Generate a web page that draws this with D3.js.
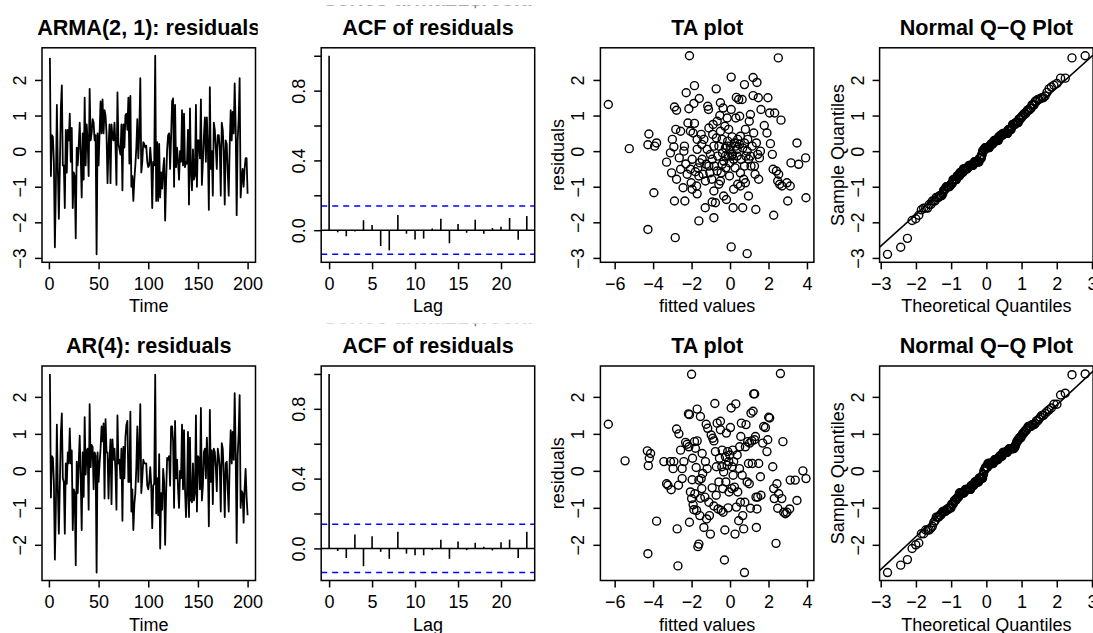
<!DOCTYPE html>
<html>
<head>
<meta charset="utf-8">
<script src="https://cdn.jsdelivr.net/npm/d3@7"></script>
<style>
body { margin: 0; background: #fff; }
svg { display: block; font-family: "Liberation Sans", Arial, Helvetica, sans-serif; }
</style>
</head>
<body>
<svg id="chart" width="1093" height="633"></svg>
<script>
// residuals, t = 1..200
var armaResid = [
  2.62, -0.70, 0.45, 0.40, -0.30, -2.70, -1.00, 1.30, -0.50, -1.90,
  -0.50, 1.20, 1.85, -0.40, -0.40, -1.60, 0.60, -0.60, 0.60, 0.30,
  1.05, -0.30, 0.65, -1.60, -0.60, -0.70, -2.45, 0.10, -0.40, 0.15,
  0.80, -0.10, -1.30, 0.50, -0.80, 1.50, -0.40, 0.75, 0.30, -0.70,
  1.75, 0.30, 0.50, 0.90, 0.80, 0.30, 0.45, -2.90, 0.50, -0.40,
  0.50, 1.40, 0.50, 1.45, 0.50, 1.15, 1.00, 0.50, -0.90, 0.10,
  0.75, -0.90, 0.75, 0.40, 0.30, 0.80, 0.20, -0.95, 1.65, 0.20,
  0.05, -0.10, 0.75, -1.10, 0.75, 0.10, 1.00, 1.05, 0.60, 1.50,
  -0.35, 1.55, -1.00, -0.70, -1.40, -0.80, -0.40, 0.10, 0.90, -0.20,
  0.50, 2.05, -0.60, -0.30, 0.25, 0.20, 0.10, 0.15, -0.30, -0.45,
  -0.40, 0.10, -0.30, -1.60, -0.30, -0.40, 2.68, -1.40, 0.25, -1.40,
  0.20, -1.30, -0.60, -1.05, -0.50, -0.20, -1.95, -0.80, 0.05, 0.45,
  0.50, -0.50, 0.40, 1.40, 1.48, -1.00, 1.30, -0.45, 0.10, -0.30,
  -0.80, 0.00, -0.30, 1.15, -0.40, 1.05, -0.45, -0.30, -0.35, 0.60,
  -1.50, 1.20, -0.60, -1.10, 0.05, -0.80, -0.70, 1.30, -1.00, 0.30,
  0.30, -0.20, 1.45, -0.95, -0.30, 0.40, 0.95, -0.30, 0.95, 0.10,
  -1.65, 1.80, -0.50, 0.00, -1.25, 0.80, 0.60, 0.10, -0.50, 0.45,
  0.45, 0.10, -1.25, 0.80, 0.60, 0.00, -1.50, 0.30, 0.20, -0.60,
  -1.25, 0.15, 1.15, 0.30, 1.10, 0.50, 1.90, 0.70, -1.80, 0.30,
  0.90, 2.05, -1.30, -0.80, -0.50, -1.00, -0.50, -0.20, -0.20, -1.20
];
var arResid = [
  2.62, -0.72, 0.40, 0.35, -0.30, -2.40, -1.00, 1.25, -0.50, -1.70,
  -0.40, 1.00, 1.55, -0.20, -0.30, -1.70, 0.20, -0.35, 0.50, 0.20,
  1.15, 0.20, 0.55, -1.60, -0.50, -0.60, -2.55, 0.25, -0.60, 0.20,
  0.95, -0.20, -1.60, 0.50, -0.70, 1.45, -0.10, 0.55, 0.60, -1.05,
  1.80, 0.10, 0.70, 0.65, -0.50, 0.50, 0.40, -2.75, 0.50, -0.30,
  0.20, 0.60, 1.20, 0.80, 1.28, -0.75, 1.40, 0.50, 0.50, -0.75,
  0.30, 0.85, -0.90, 0.85, 0.30, 0.60, 0.00, -1.05, 1.50, 0.20,
  0.30, -0.20, 0.60, -1.35, 0.65, -0.20, 0.90, 1.25, 1.35, -0.30,
  -0.30, 1.60, -1.10, -0.50, -1.60, -0.90, -0.60, 0.10, 1.20, -0.30,
  0.60, 1.80, -0.60, -0.20, 0.30, 0.20, 0.20, 0.20, -0.40, -0.50,
  -0.30, 0.10, -0.40, -1.55, -0.40, -0.35, 2.60, -1.15, -0.20, -1.20,
  0.45, -2.10, -0.60, -1.05, 0.05, -0.30, -2.00, -0.60, 0.35, 0.30,
  0.40, -0.40, 1.20, 1.20, 0.80, -1.00, 1.35, -0.20, 0.30, -0.50,
  -1.00, 0.00, -0.20, 1.25, -0.50, 1.10, -0.50, -1.25, -0.60, 1.05,
  -1.25, 0.90, -0.80, -0.85, 0.20, -0.80, -0.60, 1.50, -1.10, 0.40,
  0.35, -0.50, 1.70, -0.80, -0.40, 0.50, 0.60, -0.20, 0.90, 0.20,
  -1.50, 1.65, -0.30, 0.55, -0.90, 0.60, 0.50, 0.10, -0.55, 0.60,
  0.40, 0.10, -1.10, 0.75, 0.60, -0.10, -1.25, 0.20, 0.25, -0.50,
  -1.10, 0.30, 1.10, 0.20, 1.05, 0.30, 2.10, 0.50, -1.95, 0.40,
  1.00, 2.05, -1.00, -0.55, -0.60, -1.40, -0.50, 0.05, -0.70, -1.20
];

// sample ACF of the residuals, lags 0..23
var lags = d3.range(0, 24);
var armaAcf = [1, -0.012, -0.035, -0.008, 0.057, 0.029, -0.091, -0.116, 0.087, -0.02, -0.054, -0.048,
               0.01, 0.066, -0.075, 0.035, -0.015, 0.06, -0.02, 0.012, 0.02, 0.07, -0.055, 0.081];
var arAcf = [1, -0.015, -0.055, 0.08, -0.102, 0.07, -0.02, -0.06, 0.096, -0.03, -0.04, -0.04,
             -0.01, 0.05, -0.06, 0.04, -0.01, 0.032, 0.01, -0.012, 0.035, 0.05, -0.055, 0.095];

// TA plot points: [fitted value, residual]
var armaTA = [
  [-6.33,1.31],[-5.24,0.07],[-4.27,-2.2],[-4.22,0.48],[-4.27,0.18],[-3.96,-1.17],[-3.92,0.14],[-3.82,0.23],[-3.3,-0.31],[-3.1,-0.05],
  [-3.04,-0.61],[-3.0,0.33],[-2.92,0.12],[-2.89,1.24],[-2.78,1.15],[-2.89,-1.4],[-2.85,-2.43],[-2.82,0.61],[-2.78,-0.79],[-2.64,-0.19],
  [-2.57,-0.51],[-2.57,0.56],[-2.44,-1.03],[-2.4,0.0],[-2.37,0.14],[-2.35,-1.4],[-2.3,-0.36],[-2.28,1.64],[-2.23,-0.65],[-2.19,0.79],
  [-2.14,1.19],[-2.11,2.68],[-2.06,0.56],[-2.06,-0.51],[-2.02,-0.89],[-1.97,-0.23],[-1.97,-1.07],[-1.92,0.51],[-1.88,1.34],[-1.85,1.84],
  [-1.85,0.78],[-1.8,-0.58],[-1.74,-0.98],[-1.71,-1.2],[-1.71,0.05],[-1.67,-0.47],[-1.62,-1.96],[-1.6,1.48],[-1.57,-0.33],[-1.5,0.47],
  [-1.47,0.19],[-1.4,-0.65],[-1.36,0.33],[-1.29,-1.59],[-1.24,-0.37],[-1.19,0.05],[-1.16,1.26],[-1.12,1.17],[-1.1,0.65],[-1.05,-0.61],
  [-1.02,-0.09],[-0.95,-0.79],[-0.93,-1.43],[-0.9,0.47],[-0.88,0.75],[-0.84,-1.12],[-0.84,-1.87],[-0.81,-0.42],[-0.76,-1.45],[-0.72,1.75],
  [-0.71,0.37],[-0.67,0.84],[-0.64,-0.14],[-0.58,-0.93],[-0.58,0.14],[-0.53,1.0],[-0.5,1.36],[-0.5,0.56],[-0.46,-0.61],[-0.41,0.33],
  [-0.39,-0.05],[-0.36,1.21],[-0.33,-1.26],[-0.33,-0.28],[-0.27,0.7],[-0.24,0.09],[-0.22,-0.47],[-0.19,-1.36],[-0.15,0.93],[-0.12,0.28],
  [-0.1,-0.14],[-0.07,0.61],[-0.03,-0.7],[-0.01,-0.33],[0.02,0.14],[0.06,2.08],[0.06,1.17],[0.06,-2.69],[0.11,0.4],[0.12,-0.09],
  [0.16,-1.59],[0.19,-1.07],[0.23,0.23],[0.26,-0.47],[0.3,0.93],[0.33,1.51],[0.37,0.05],[0.4,-0.93],[0.45,1.45],[0.49,0.19],
  [0.5,0.98],[0.54,-0.98],[0.57,-0.23],[0.63,1.45],[0.66,-1.59],[0.71,-0.79],[0.75,1.87],[0.8,0.61],[0.83,-0.14],[0.89,-2.88],
  [0.89,0.0],[0.92,0.33],[0.96,-1.26],[1.0,0.84],[1.06,1.03],[1.09,-0.42],[1.15,0.14],[1.2,2.07],[1.2,1.56],[1.23,0.51],
  [1.27,-0.42],[1.3,-0.65],[1.34,-1.64],[1.37,0.23],[1.4,1.93],[1.44,-0.09],[1.47,1.5],[1.49,-0.79],[1.53,-0.19],[1.58,0.0],
  [1.61,1.17],[1.78,0.72],[1.92,0.51],[1.97,1.5],[2.06,1.07],[2.1,0.21],[2.2,-0.09],[2.24,-0.51],[2.27,-1.8],[2.32,1.07],
  [2.41,-0.56],[2.48,-0.84],[2.51,2.62],[2.53,-0.65],[2.58,-0.93],[2.65,0.87],[2.7,-0.98],[2.96,-0.89],[3.0,-1.4],[3.13,-0.98],
  [3.17,-0.33],[3.48,0.23],[3.57,-0.37],[3.93,-0.19],[3.95,-1.31],
  [-0.15,0.14],[-0.01,0.03],[0.09,-0.14],[0.19,-0.23],[0.3,0.14],[0.4,0.33],[0.54,0.42],[0.66,0.09],[0.75,0.23],[-0.24,-0.14],
  [-0.41,-0.37],[-0.5,-0.84],[-0.67,-0.56],[-0.84,0.14],[-0.93,-0.23],[-1.1,-0.42],[-1.28,-0.84],[-1.45,-0.23],[-1.62,-0.7],[-1.71,0.33],
  [0.54,-0.61],[0.75,-0.42],[0.97,-0.23],[1.06,-0.14],[0.8,-0.89],[0.37,-0.14]
];
var arTA = [
  [-6.33,1.26],[-5.46,0.27],[-4.3,0.54],[-4.25,0.14],[-4.13,0.47],[-4.27,-2.24],[-4.2,0.34],[-3.82,-1.36],[-3.44,0.25],[-3.3,-0.35],
  [-3.23,-0.39],[-3.1,0.25],[-3.06,-0.51],[-2.96,0.06],[-2.92,0.25],[-2.78,1.13],[-2.75,-1.57],[-2.71,-2.57],[-2.68,-0.39],[-2.66,1.0],
  [-2.57,0.56],[-2.49,0.06],[-2.49,-0.21],[-2.4,0.25],[-2.31,0.77],[-2.23,0.72],[-2.16,1.54],[-2.14,0.65],[-2.11,1.52],[-2.11,-1.39],
  [-2.06,-0.57],[-2.0,-0.75],[-2.0,2.61],[-1.97,-0.24],[-1.95,0.34],[-1.92,-0.92],[-1.88,-1.05],[-1.85,0.79],[-1.83,-0.62],[-1.8,0.61],
  [-1.76,0.09],[-1.74,-1.07],[-1.71,0.81],[-1.71,1.67],[-1.67,-2.05],[-1.62,-1.98],[-1.62,-0.25],[-1.57,-1.21],[-1.54,1.47],[-1.54,-0.74],
  [-1.5,-0.21],[-1.47,-0.48],[-1.45,0.47],[-1.42,-0.07],[-1.36,-1.53],[-1.31,-0.71],[-1.28,0.25],[-1.24,1.26],[-1.22,-1.3],[-1.19,0.06],
  [-1.16,1.15],[-1.1,-0.85],[-1.07,-1.21],[-1.02,-1.71],[-0.98,0.97],[-0.93,-0.46],[-0.9,0.88],[-0.84,0.81],[-0.84,-0.95],[-0.79,1.82],
  [-0.76,0.52],[-0.72,-0.66],[-0.71,0.11],[-0.67,1.29],[-0.62,-1.03],[-0.58,-0.3],[-0.55,0.34],[-0.5,1.11],[-0.5,1.34],[-0.46,-1.07],
  [-0.43,0.11],[-0.41,0.56],[-0.38,-0.48],[-0.36,-1.12],[-0.33,-0.03],[-0.29,-2.41],[-0.27,-1.6],[-0.24,0.38],[-0.22,-0.3],[-0.19,1.02],
  [-0.15,0.15],[-0.12,0.52],[-0.1,-1.0],[-0.07,0.25],[-0.05,-0.57],[-0.01,0.43],[0.02,1.17],[0.06,1.7],[0.09,-0.48],[0.11,0.11],
  [0.14,0.56],[0.16,-0.12],[0.19,0.25],[0.23,-0.44],[0.26,-1.71],[0.3,1.81],[0.33,-0.98],[0.37,0.43],[0.4,-0.57],[0.45,-1.35],
  [0.49,0.06],[0.5,0.65],[0.54,-0.85],[0.56,0.93],[0.59,1.29],[0.63,-0.12],[0.66,-1.21],[0.71,-1.57],[0.75,-2.75],[0.77,-0.85],
  [0.8,0.65],[0.83,1.25],[0.89,-0.3],[0.92,0.79],[0.96,0.2],[1.0,-0.35],[1.02,0.75],[1.06,-1.01],[1.09,1.56],[1.13,0.81],
  [1.16,0.2],[1.2,1.61],[1.23,2.08],[1.27,0.84],[1.28,2.08],[1.32,0.93],[1.35,-0.71],[1.37,-1.53],[1.4,-1.03],[1.44,-0.71],
  [1.49,0.2],[1.58,-0.16],[1.61,-0.66],[1.7,0.75],[1.75,1.2],[1.84,1.17],[1.92,0.52],[1.96,0.84],[2.01,1.45],[2.06,1.43],
  [2.22,0.11],[2.27,-0.48],[2.3,-0.75],[2.39,-1.96],[2.44,-0.35],[2.48,-1.01],[2.53,-0.62],[2.62,2.63],[2.69,-0.75],[2.75,0.79],
  [2.79,-1.12],[2.88,-1.16],[2.96,-1.12],[3.1,-1.03],[3.13,-0.25],[3.39,-0.25],[3.48,-0.8],[3.79,0.0],[3.95,-0.21]
];

var rowTitles = ["ARMA(2, 1): residuals", "AR(4): residuals"];
var hiddenTitle = "Series arma21$resid";
var timeTicks = [0, 50, 100, 150, 200];
var lagTicks = [0, 5, 10, 15, 20];
var acfTicks = [0, 0.2, 0.4, 0.6, 0.8, 1.0];
var acfLabelled = [0, 0.4, 0.8];
var taTicks = [-6, -4, -2, 0, 2, 4];
var qqTicks = [-3, -2, -1, 0, 1, 2, 3];

// layout
var FONT = 18, TFONT = 21.6;
var figW = 279.2, figX0 = -19.5, boxOff = 61.5, boxW = 213.5, boxH = 214.5;
var rowTop = [47.8, 366];

var svg = d3.select("#chart");
var fmt = d3.format("");
var fmt1 = d3.format(".1f");
var nClip = 0;

// R style 4% expansion of the data range
function pad(ext) {
  var d = (ext[1] - ext[0]) * 0.04;
  return [ext[0] - d, ext[1] + d];
}

function intTicks(dom) {
  return d3.range(Math.ceil(dom[0]), Math.floor(dom[1]) + 1);
}

// inverse normal cdf (Acklam)
function qnorm(p) {
  var a = [-3.969683028665376e+01, 2.209460984245205e+02, -2.759285104469687e+02, 1.383577518672690e+02, -3.066479806614716e+01, 2.506628277459239e+00];
  var b = [-5.447609879822406e+01, 1.615858368580409e+02, -1.556989798598866e+02, 6.680131188771972e+01, -1.328068155288572e+01];
  var c = [-7.784894002430293e-03, -3.223964580411365e-01, -2.400758277161838e+00, -2.549732539343734e+00, 4.374664141464968e+00, 2.938163982698783e+00];
  var d = [7.784695709041462e-03, 3.224671290700398e-01, 2.445134137142996e+00, 3.754408661907416e+00];
  var pl = 0.02425, q, r;
  if (p < pl || p > 1 - pl) {
    q = Math.sqrt(-2 * Math.log(p < pl ? p : 1 - p));
    var v = (((((c[0]*q+c[1])*q+c[2])*q+c[3])*q+c[4])*q+c[5]) / ((((d[0]*q+d[1])*q+d[2])*q+d[3])*q+1);
    return p < pl ? v : -v;
  }
  q = p - 0.5; r = q * q;
  return (((((a[0]*r+a[1])*r+a[2])*r+a[3])*r+a[4])*r+a[5])*q / (((((b[0]*r+b[1])*r+b[2])*r+b[3])*r+b[4])*r+1);
}

function panel(row, col, title, xlab, ylab) {
  var x0 = figX0 + col * figW + boxOff, y0 = rowTop[row];
  var g = svg.append("g").attr("transform", "translate(" + x0 + "," + y0 + ")");
  var id = "clip" + (nClip++);
  g.append("clipPath").attr("id", id).append("rect").attr("width", boxW).attr("height", boxH);
  // figure region: titles are cut at its edges
  var fid = "fig" + (nClip++);
  g.append("clipPath").attr("id", fid).append("rect")
    .attr("x", -boxOff).attr("y", -42.3).attr("width", figW - 2).attr("height", 400);
  g.append("text").attr("x", boxW / 2).attr("y", -13)
    .attr("clip-path", "url(#" + fid + ")")
    .attr("text-anchor", "middle").attr("font-size", TFONT).attr("font-weight", "bold")
    .text(title);
  if (xlab) {
    g.append("text").attr("x", boxW / 2).attr("y", boxH + 50)
      .attr("text-anchor", "middle").attr("font-size", FONT).text(xlab);
  }
  if (ylab) {
    g.append("text").attr("transform", "translate(-36," + (boxH / 2) + ") rotate(-90)")
      .attr("text-anchor", "middle").attr("font-size", FONT).text(ylab);
  }
  return { g: g, clip: "url(#" + id + ")", fig: "url(#" + fid + ")" };
}

function axes(p, x, y, xt, yt, yLabelled, yFmt) {
  var ax = p.g.append("g").attr("transform", "translate(0," + boxH + ")")
    .call(d3.axisBottom(x).tickValues(xt).tickSize(7).tickPadding(8).tickFormat(fmt));
  var ay = p.g.append("g")
    .call(d3.axisLeft(y).tickValues(yt).tickSize(7).tickFormat(function (d) {
      if (yLabelled && yLabelled.indexOf(d) < 0) return "";
      return (yFmt || fmt)(d);
    }));
  [ax, ay].forEach(function (a) {
    a.attr("font-size", FONT).attr("font-family", null);
    a.select(".domain").remove();
    a.selectAll("line").attr("stroke", "#000").attr("stroke-width", 1.5);
    a.selectAll("text").attr("fill", "#000");
  });
  ay.selectAll("text").attr("transform", "rotate(-90)").attr("x", 0).attr("y", -16)
    .attr("dy", null).attr("text-anchor", "middle");
  p.g.append("rect").attr("width", boxW).attr("height", boxH)
    .attr("fill", "none").attr("stroke", "#000").attr("stroke-width", 1.5);
}

function drawRow(row, resid, acf, ta) {
  var n = resid.length;
  var yDom = pad(d3.extent(resid));
  var yTicks = intTicks(yDom);

  // residual time series
  var p = panel(row, 0, rowTitles[row], "Time", null);
  var x = d3.scaleLinear().domain(pad([1, n])).range([0, boxW]);
  var y = d3.scaleLinear().domain(yDom).range([boxH, 0]);
  p.g.append("path").datum(resid)
    .attr("clip-path", p.clip)
    .attr("fill", "none").attr("stroke", "#000").attr("stroke-width", 1.8).attr("stroke-linejoin", "round")
    .attr("d", d3.line().x(function (d, i) { return x(i + 1); }).y(function (d) { return y(d); }));
  axes(p, x, y, timeTicks, yTicks);

  // ACF; the default "Series ..." title sits above the figure and only its foot shows
  p = panel(row, 1, "ACF of residuals", "Lag", null);
  p.g.append("text").attr("x", boxW / 2).attr("y", -41.6)
    .attr("clip-path", p.fig)
    .attr("text-anchor", "middle").attr("font-size", TFONT).attr("font-weight", "bold")
    .attr("fill", "#666")
    .text(hiddenTitle);
  var clim = 1.96 / Math.sqrt(n);
  x = d3.scaleLinear().domain(pad([0, d3.max(lags)])).range([0, boxW]);
  y = d3.scaleLinear().domain(pad([Math.min(-clim, d3.min(acf)), Math.max(clim, d3.max(acf))])).range([boxH, 0]);
  p.g.selectAll(".bar").data(lags).enter().append("line")
    .attr("x1", function (d) { return x(d); }).attr("x2", function (d) { return x(d); })
    .attr("y1", y(0)).attr("y2", function (d) { return y(acf[d]); })
    .attr("stroke", "#000").attr("stroke-width", 1.6);
  p.g.append("line").attr("x1", 0).attr("x2", boxW).attr("y1", y(0)).attr("y2", y(0))
    .attr("stroke", "#000").attr("stroke-width", 1.5);
  [clim, -clim].forEach(function (v) {
    p.g.append("line").attr("x1", 0).attr("x2", boxW).attr("y1", y(v)).attr("y2", y(v))
      .attr("stroke", "#0000ff").attr("stroke-width", 1.5).attr("stroke-dasharray", "6,5");
  });
  axes(p, x, y, lagTicks, acfTicks, acfLabelled, fmt1);

  // TA plot
  p = panel(row, 2, "TA plot", "fitted values", "residuals");
  x = d3.scaleLinear().domain(pad(d3.extent(ta, function (d) { return d[0]; }))).range([0, boxW]);
  y = d3.scaleLinear().domain(yDom).range([boxH, 0]);
  p.g.selectAll(".pt").data(ta).enter().append("circle")
    .attr("cx", function (d) { return x(d[0]); }).attr("cy", function (d) { return y(d[1]); })
    .attr("r", 4).attr("fill", "none").attr("stroke", "#000").attr("stroke-width", 1.4);
  axes(p, x, y, taTicks, yTicks);

  // normal QQ plot
  p = panel(row, 3, "Normal Q\u2212Q Plot", "Theoretical Quantiles", "Sample Quantiles");
  var sorted = resid.slice().sort(d3.ascending);
  var theo = sorted.map(function (d, i) { return qnorm((i + 0.5) / n); });
  x = d3.scaleLinear().domain(pad(d3.extent(theo))).range([0, boxW]);
  p.g.selectAll(".qq").data(sorted).enter().append("circle")
    .attr("cx", function (d, i) { return x(theo[i]); }).attr("cy", function (d) { return y(d); })
    .attr("r", 4).attr("fill", "none").attr("stroke", "#000").attr("stroke-width", 1.4);
  var q1 = d3.quantile(sorted, 0.25), q3 = d3.quantile(sorted, 0.75);
  var slope = (q3 - q1) / (qnorm(0.75) - qnorm(0.25));
  var icpt = q1 - slope * qnorm(0.25);
  var xd = x.domain();
  p.g.append("line").attr("clip-path", p.clip)
    .attr("x1", x(xd[0])).attr("y1", y(icpt + slope * xd[0]))
    .attr("x2", x(xd[1])).attr("y2", y(icpt + slope * xd[1]))
    .attr("stroke", "#000").attr("stroke-width", 1.5);
  axes(p, x, y, qqTicks, yTicks);
}

drawRow(0, armaResid, armaAcf, armaTA);
drawRow(1, arResid, arAcf, arTA);
</script>
</body>
</html>
